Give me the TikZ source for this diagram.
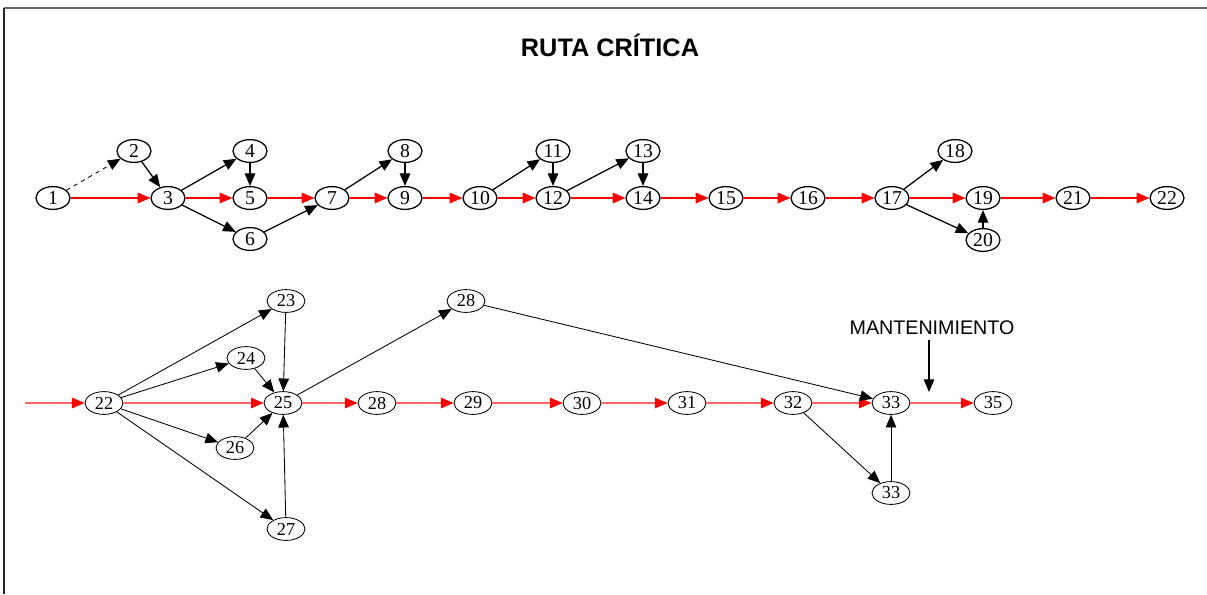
\documentclass[tikz,border=0pt]{standalone}
\usepackage{fontspec}
\setmainfont{Liberation Serif}
\setsansfont{Liberation Sans}
\usepackage{tikz}
\usetikzlibrary{arrows.meta,shapes.geometric,positioning}

\begin{document}
\begin{tikzpicture}[x=0.025cm,y=-0.025cm,
  big tip/.style={-{Triangle[length=9pt,width=7.5pt]}},
  red tip/.style={-{Triangle[length=9pt,width=7.5pt,color=red]}},
  top node/.style={ellipse,draw,line width=0.9pt,inner sep=0pt,minimum width=0.85cm,minimum height=0.57cm,font=\fontsize{14}{15}\selectfont},
  low node/.style={ellipse,draw,line width=0.6pt,inner sep=0pt,minimum width=0.95cm,minimum height=0.57cm,font=\fontsize{13}{14}\selectfont},
  crit/.style={big tip,red,line width=0.9pt},
  norm/.style={big tip,black,line width=0.9pt},
  lowcrit/.style={red tip,red!60,line width=0.8pt},
  lownorm/.style={big tip,black,line width=0.6pt}]
    \useasboundingbox (0,0) rectangle (1207,594);
    \draw[gray!80!black,line width=1.2pt] (4,8) -- (1207,8);
    \draw[black!85,line width=1.2pt] (4,8) -- (4,594);
    \node[font=\sffamily\bfseries\fontsize{18}{20}\selectfont] (title) at (610,45) {RUTA CR\'ITICA};

    % primera parte
    \node[top node](n1) at (53,198){1};
    \node[top node](n2) at (134,151){2};
    \node[top node](n3) at (168,198){3};
    \node[top node](n4) at (250,151){4};
    \node[top node](n5) at (250,198){5};
    \node[top node](n6) at (250,239){6};
    \node[top node](n7) at (332,198){7};
    \node[top node](n8) at (405,151){8};
    \node[top node](n9) at (405,198){9};
    \node[top node](n10) at (480,198){10};
    \node[top node](n11) at (553,151){11};
    \node[top node](n12) at (553,198){12};
    \node[top node](n13) at (643,151){13};
    \node[top node](n14) at (643,198){14};
    \node[top node](n15) at (726,198){15};
    \node[top node](n16) at (808,198){16};
    \node[top node](n17) at (892,198){17};
    \node[top node](n18) at (955,151){18};
    \node[top node](n19) at (983,198){19};
    \node[top node](n20) at (983,240){20};
    \node[top node](n21) at (1073,198){21};
    \node[top node](n22) at (1167,198){22};

    \path[crit] (n1) edge (n3) (n3) edge (n5) (n5) edge (n7)
          (n7) edge (n9) (n9) edge (n10) (n10) edge (n12)
          (n12) edge (n14) (n14) edge (n15) (n15) edge (n16)
          (n16) edge (n17) (n17) edge (n19) (n19) edge (n21)
          (n21) edge (n22)
    ;
    \path[norm] (n1) edge[line width=0.6pt,dashed] (n2)
          (n2) edge (n3) (n3) edge (n4) (n3) edge (n6)
          (n4) edge (n5) (n6) edge (n7) (n7) edge (n8)
          (n8) edge (n9) (n10) edge (n11) (n11) edge (n12)
          (n12) edge (n13) (n13) edge (n14) (n17) edge (n18)
          (n17) edge (n20) (n20) edge (n19)
    ;

    % segunda parte
    \coordinate (start) at (25,403);
    \node[low node](m22) at (104,403){22};
    \node[low node](m23) at (286,301){23};
    \node[low node](m24) at (246,358){24};
    \node[low node](m25) at (283,403){25};
    \node[low node](m26) at (235,448){26};
    \node[low node](m27) at (286,529){27};
    \node[low node](m28a) at (466,301){28};
    \node[low node](m28) at (377,403){28};
    \node[low node](m29) at (473,403){29};
    \node[low node](m30) at (582,403){30};
    \node[low node](m31) at (687,403){31};
    \node[low node](m32) at (793,403){32};
    \node[low node](m33) at (891,403){33};
    \node[low node](m33b) at (891,493){33};
    \node[low node](m35) at (993,403){35};
    \node[font=\sffamily\fontsize{14}{16}\selectfont](mant) at (932,328){MANTENIMIENTO};
    \coordinate (mtip) at (929,392);

    \path[lowcrit] (start) edge (m22) (m22) edge (m25) (m25) edge (m28)
          (m28) edge (m29) (m29) edge (m30) (m30) edge (m31)
          (m31) edge (m32) (m32) edge (m33) (m33) edge (m35)
    ;
    \path[lownorm] (m22) edge (m23) (m22) edge (m24) (m22) edge (m26)
          (m22) edge (m27) (m23) edge (m25) (m24) edge (m25)
          (m26) edge (m25) (m27) edge (m25) (m25) edge (m28a)
          (m28a) edge (m33) (m32) edge (m33b)
          (m33b) edge (m33)
    ;
    \draw[big tip,line width=0.8pt] (mant.south -| mtip) -- (mtip);

\end{tikzpicture}
\end{document}
